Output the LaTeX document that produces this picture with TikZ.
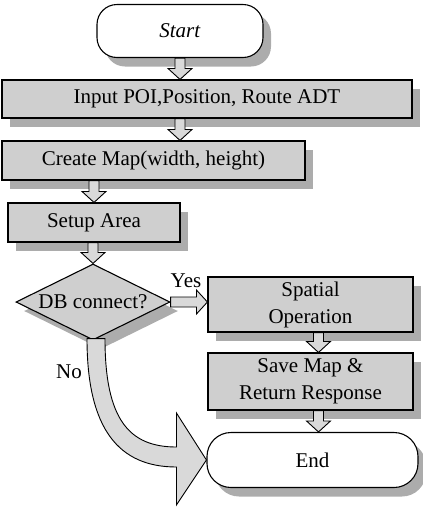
\documentclass[tikz,border=0pt]{standalone}
\usepackage{fontspec}
\setmainfont{Liberation Serif}
\usetikzlibrary{shapes.geometric,shadows,calc}
\tikzset{
  dropsh/.style={drop shadow={shadow xshift=8pt,shadow yshift=-9pt,fill=gray!65,opacity=1}},
  proc/.style={draw,line width=1.1pt,fill=gray!38,dropsh,inner sep=0pt,align=center,font=\fontsize{21}{27}\selectfont},
  term/.style={proc,fill=white,rounded corners=20pt},
  decide/.style={proc,diamond,aspect=2},
  blockarrow/.style={draw,line width=0.9pt,fill=gray!30,line join=miter},
  lbl/.style={font=\fontsize{21}{27}\selectfont}
}
\newcommand\blockdown[2]{\draw[blockarrow] let \p1=(#1), \p2=(#2) in
  (\x1-5pt,\y1) -- (\x1-5pt,\y2+11pt) -- (\x1-12pt,\y2+11pt) -- (\x1,\y2)
  -- (\x1+12pt,\y2+11pt) -- (\x1+5pt,\y2+11pt) -- (\x1+5pt,\y1) -- cycle;}
\newcommand\blockright[2]{\draw[blockarrow] let \p1=(#1), \p2=(#2) in
  (\x1,\y1+5pt) -- (\x2-11pt,\y1+5pt) -- (\x2-11pt,\y1+12pt) -- (\x2,\y1)
  -- (\x2-11pt,\y1-12pt) -- (\x2-11pt,\y1-5pt) -- (\x1,\y1-5pt) -- cycle;}
\begin{document}
\begin{tikzpicture}[x=1pt,y=-1pt]
\useasboundingbox (0,0) rectangle (423,507);
\node[term,minimum width=166pt,minimum height=53pt] (start) at (180,31) {\textit{Start}};
\node[proc,minimum width=410pt,minimum height=38pt] (input) at (207,99) {Input POI,Position, Route ADT};
\node[proc,minimum width=303pt,minimum height=39pt] (create) at (153.5,160.5) {Create Map(width, height)};
\node[proc,minimum width=172pt,minimum height=39pt] (setup) at (94,222.5) {Setup Area};
\node[decide,minimum width=154pt,minimum height=76pt] (dec) at (93,302) {DB connect?};
\node[proc,minimum width=205pt,minimum height=55pt] (spatial) at (310.5,304.5) {Spatial\\Operation};
\node[proc,minimum width=205pt,minimum height=57pt] (save) at (310.5,381.5) {Save Map \&\\Return Response};
\node[term,minimum width=211pt,minimum height=55pt,rounded corners=24pt] (end) at (312.5,460) {End};
\node[lbl] (yes) at (186,281) {Yes};
\node[lbl] (no) at (69,372) {No};
\blockdown{start.south}{input.north -| start.south}
\blockdown{input.south -| start.south}{create.north -| start.south}
\blockdown{create.south -| setup.north}{setup.north}
\blockdown{setup.south -| dec.north}{dec.north}
\blockdown{$(spatial.south)+(8,0)$}{$(save.north)+(8,0)$}
\blockdown{$(save.south)+(8,0)$}{$(end.north)+(8,0)$}
\blockright{dec.east}{spatial.west}
\draw[blockarrow] let \p1=(dec.south), \p2=(end.west) in
  (\x1-6pt,\y1+2pt) .. controls (\x1-6pt,\y2+30pt) and (\x2-87pt,\y2-7pt) .. (\x2-30pt,\y2-7pt)
  -- (\x2-30pt,\y2-45pt) -- (\x2,\y2) -- (\x2-30pt,\y2+47pt) -- (\x2-30pt,\y2+13pt)
  .. controls (\x2-77pt,\y2+13pt) and (\x1+12pt,\y2+40pt) .. (\x1+12pt,\y1+2pt) -- cycle;
\end{tikzpicture}
\end{document}
